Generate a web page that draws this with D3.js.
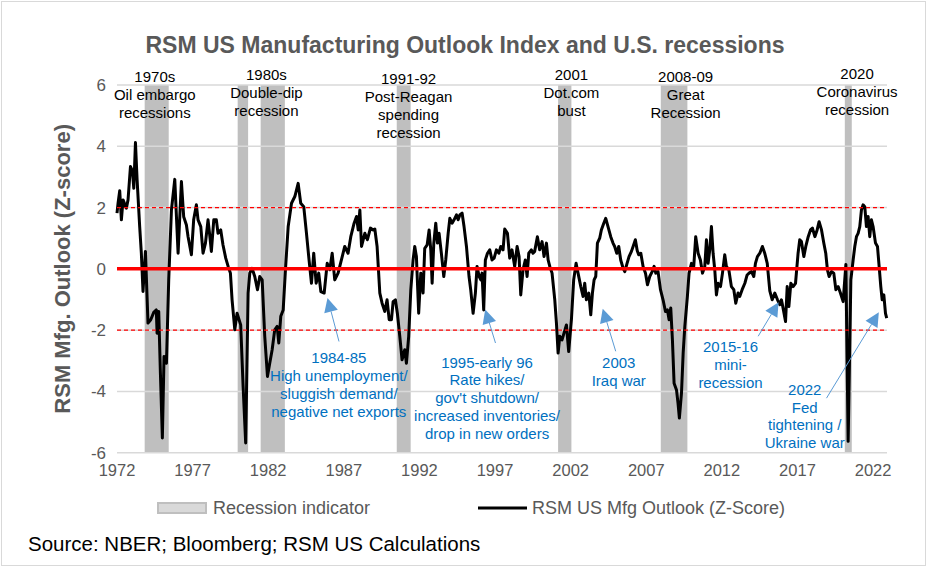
<!DOCTYPE html>
<html>
<head>
<meta charset="utf-8">
<script src="https://cdn.jsdelivr.net/npm/d3@7"></script>
<style>
  body { margin: 0; background: #fff; }
  text { font-family: Arial, "Liberation Sans", sans-serif; }
</style>
</head>
<body>
<svg id="chart" width="937" height="575"></svg>
<script>
// RSM US Mfg Outlook z-score, [decimal year, value]
const mfgOutlook = [
  [1972.0,1.82],[1972.07,2.14],[1972.18,2.55],[1972.29,1.6],[1972.4,2.25],[1972.62,1.98],[1972.73,2.25],
  [1972.89,3.34],[1973.02,3.2],[1973.11,2.63],[1973.22,4.12],[1973.33,2.9],[1973.5,1.38],[1973.61,0.51],
  [1973.72,-0.74],[1973.88,0.57],[1974.05,-1.77],[1974.23,-1.66],[1974.43,-1.42],[1974.6,-1.34],[1974.65,-2.1],
  [1974.76,-1.39],[1974.87,-3.4],[1975.0,-5.52],[1975.11,-2.86],[1975.27,-3.08],[1975.42,-0.36],[1975.6,1.92],
  [1975.82,2.92],[1976.04,0.51],[1976.26,2.85],[1976.41,1.7],[1976.59,1.43],[1976.7,1.05],[1976.92,0.46],
  [1977.07,1.6],[1977.25,2.09],[1977.36,1.6],[1977.54,1.38],[1977.69,0.51],[1977.85,0.84],[1978.02,1.6],
  [1978.13,1.11],[1978.24,0.57],[1978.4,1.6],[1978.57,1.6],[1978.68,1.16],[1978.86,1.27],[1979.01,0.78],
  [1979.19,0.35],[1979.35,0.08],[1979.5,-0.14],[1979.61,-1.01],[1979.79,-1.99],[1979.94,-1.45],[1980.18,-1.83],
  [1980.34,-3.84],[1980.51,-5.68],[1980.67,-0.79],[1980.78,-0.14],[1980.93,0.02],[1981.11,-0.25],[1981.29,-0.68],
  [1981.44,-0.25],[1981.6,-0.36],[1981.77,-2.2],[1981.95,-3.51],[1982.1,-3.08],[1982.26,-2.64],[1982.43,-1.99],
  [1982.59,-1.88],[1982.7,-2.42],[1982.83,-1.55],[1982.99,-1.34],[1983.14,-0.03],[1983.32,1.38],[1983.54,2.14],
  [1983.76,2.36],[1983.98,2.79],[1984.15,2.14],[1984.35,2.03],[1984.53,1.16],[1984.7,0.29],[1984.86,-0.47],
  [1985.01,0.51],[1985.17,-0.47],[1985.34,-0.14],[1985.48,-0.74],[1985.7,-0.79],[1985.9,0.18],[1986.07,-0.03],
  [1986.23,0.51],[1986.4,-0.36],[1986.62,-0.14],[1986.84,0.29],[1987.06,0.73],[1987.28,0.51],[1987.46,1.05],
  [1987.68,1.49],[1987.84,1.71],[1987.95,1.27],[1988.06,1.92],[1988.17,0.73],[1988.39,1.16],[1988.56,0.95],
  [1988.76,1.33],[1988.94,1.27],[1989.05,1.3],[1989.2,0.73],[1989.38,-0.79],[1989.53,-1.12],[1989.71,-1.39],
  [1989.86,-1.01],[1990.0,-1.66],[1990.15,-1.66],[1990.26,-1.07],[1990.41,-1.01],[1990.54,-1.45],[1990.7,-2.2],
  [1990.85,-2.97],[1991.03,-2.64],[1991.14,-3.08],[1991.29,-2.2],[1991.43,-0.68],[1991.58,0.29],[1991.69,0.73],
  [1991.8,0.4],[1991.95,-1.45],[1992.09,-0.14],[1992.24,-0.79],[1992.35,0.67],[1992.51,0.78],[1992.64,1.27],
  [1992.75,0.62],[1992.84,-0.47],[1992.95,0.84],[1993.08,1.49],[1993.19,0.84],[1993.3,1.16],[1993.45,0.51],
  [1993.61,-0.25],[1993.74,0.29],[1993.9,1.16],[1994.01,1.65],[1994.16,1.49],[1994.29,1.6],[1994.45,1.76],
  [1994.56,1.6],[1994.67,1.76],[1994.82,1.82],[1994.95,1.38],[1995.11,0.73],[1995.28,-0.25],[1995.39,-0.68],
  [1995.55,-1.45],[1995.7,-0.79],[1995.81,0.08],[1995.95,-0.25],[1996.06,-0.36],[1996.14,-0.14],[1996.25,-1.34],
  [1996.36,0.29],[1996.5,0.51],[1996.65,0.62],[1996.8,0.29],[1996.94,0.35],[1997.09,0.62],[1997.25,0.51],
  [1997.38,0.73],[1997.53,0.62],[1997.64,1.3],[1997.82,1.16],[1997.97,0.35],[1998.12,0.62],[1998.3,0.08],
  [1998.46,0.73],[1998.59,0.4],[1998.7,-0.85],[1998.85,-0.03],[1999.0,0.29],[1999.12,-0.25],[1999.23,0.51],
  [1999.4,0.62],[1999.51,0.51],[1999.62,0.57],[1999.8,1.05],[1999.95,0.62],[2000.11,0.89],[2000.24,0.4],
  [2000.4,0.84],[2000.51,0.29],[2000.62,0.08],[2000.77,-0.14],[2000.95,-1.01],[2001.06,-1.77],[2001.17,-2.75],
  [2001.28,-2.2],[2001.43,-2.32],[2001.56,-2.1],[2001.72,-1.83],[2001.87,-2.7],[2002.05,-1.66],[2002.2,-0.36],
  [2002.36,0.18],[2002.49,-0.14],[2002.67,-0.58],[2002.82,-0.9],[2002.93,-0.47],[2003.04,-1.01],[2003.2,-0.79],
  [2003.33,-1.5],[2003.44,-0.79],[2003.55,-0.36],[2003.66,-0.25],[2003.77,0.84],[2003.92,1.0],[2004.03,1.27],
  [2004.19,1.49],[2004.32,1.65],[2004.47,1.38],[2004.65,1.05],[2004.8,0.84],[2004.91,0.73],[2005.05,0.51],
  [2005.18,0.73],[2005.31,0.29],[2005.47,0.02],[2005.58,-0.09],[2005.73,0.18],[2005.86,0.4],[2006.02,0.57],
  [2006.13,0.73],[2006.28,0.95],[2006.4,0.6],[2006.5,0.46],[2006.64,0.51],[2006.79,0.08],[2006.95,-0.14],
  [2007.08,-0.52],[2007.23,-0.25],[2007.39,-0.09],[2007.52,0.08],[2007.63,-0.14],[2007.78,-0.09],[2007.94,-0.68],
  [2008.11,-1.01],[2008.27,-1.39],[2008.4,-1.34],[2008.51,-1.66],[2008.62,-1.28],[2008.73,-2.32],[2008.84,-3.73],
  [2009.0,-3.95],[2009.1,-4.38],[2009.19,-4.87],[2009.33,-4.05],[2009.44,-2.75],[2009.55,-1.88],[2009.72,-0.9],
  [2009.83,-0.14],[2009.99,0.18],[2010.14,0.08],[2010.27,1.05],[2010.43,0.51],[2010.58,0.29],[2010.72,-0.14],
  [2010.87,0.08],[2010.98,0.95],[2011.09,0.18],[2011.2,0.62],[2011.31,1.38],[2011.42,0.51],[2011.53,-0.03],
  [2011.64,-0.85],[2011.75,-0.47],[2011.91,-0.58],[2012.04,-0.14],[2012.19,0.46],[2012.3,0.08],[2012.46,-0.03],
  [2012.63,-0.58],[2012.79,-0.68],[2012.92,-1.12],[2013.07,-0.79],[2013.18,-0.9],[2013.34,-0.68],[2013.52,-0.47],
  [2013.67,-0.2],[2013.8,-0.14],[2013.96,-0.09],[2014.11,-0.25],[2014.22,0.18],[2014.35,0.4],[2014.51,0.51],
  [2014.68,0.73],[2014.84,0.5],[2015.0,0.18],[2015.17,-0.72],[2015.33,-1.01],[2015.5,-0.79],[2015.68,-1.01],
  [2015.83,-1.17],[2015.94,-1.01],[2016.07,-1.34],[2016.21,-1.72],[2016.32,-0.58],[2016.43,-1.23],[2016.56,-0.47],
  [2016.71,-0.58],[2016.87,-0.47],[2017.04,0.51],[2017.15,0.95],[2017.26,0.89],[2017.42,0.4],[2017.55,0.73],
  [2017.71,1.05],[2017.86,1.27],[2017.99,1.33],[2018.15,1.05],[2018.3,1.27],[2018.43,1.54],[2018.59,1.27],
  [2018.74,0.84],[2018.87,0.51],[2018.98,-0.03],[2019.09,-0.25],[2019.25,-0.09],[2019.4,-0.14],[2019.54,-0.68],
  [2019.69,-0.58],[2019.84,-0.79],[2020.02,-1.07],[2020.2,0.14],[2020.35,-5.63],[2020.53,-0.36],[2020.68,0.29],
  [2020.79,0.73],[2020.9,1.05],[2021.01,1.16],[2021.12,1.38],[2021.23,1.92],[2021.34,2.09],[2021.45,2.03],
  [2021.56,1.38],[2021.67,1.71],[2021.78,1.05],[2021.89,1.6],[2022.0,1.38],[2022.16,0.84],[2022.29,0.73],
  [2022.4,0.08],[2022.51,-0.58],[2022.6,-1.01],[2022.71,-0.85],[2022.82,-1.45],[2022.9,-1.61]
];

// recession indicator bars (start, end), as drawn
const recessions = [
  [1973.83, 1975.42], [1979.98, 1980.67], [1981.5, 1983.1], [1990.5, 1991.42],
  [2001.17, 2002.05], [2007.96, 2009.72], [2020.13, 2020.59]
];

const xTicks = [1972, 1977, 1982, 1987, 1992, 1997, 2002, 2007, 2012, 2017, 2022];
const yTicks = [-6, -4, -2, 0, 2, 4, 6];

// recession labels: centre year, top value, lines
const recessionNotes = [
  { year: 1974.5, value: 6.28, lines: ["1970s", "Oil embargo", "recessions"] },
  { year: 1981.88, value: 6.35, lines: ["1980s", "Double-dip", "recession"] },
  { year: 1991.28, value: 6.21, lines: ["1991-92", "Post-Reagan", "spending", "recession"] },
  { year: 2002.05, value: 6.32, lines: ["2001", "Dot.com", "bust"] },
  { year: 2009.6, value: 6.27, lines: ["2008-09", "Great", "Recession"] },
  { year: 2020.94, value: 6.38, lines: ["2020", "Coronavirus", "recession"] }
];

// slowdown callouts with arrows (from / to in year, value)
const slowdownNotes = [
  { year: 1986.67, value: -2.91, lines: ["1984-85", "High unemployment/", "sluggish demand/", "negative net exports"],
    from: [1986.68, -2.37], to: [1985.92, -0.95] },
  { year: 1996.47, value: -3.05, lines: ["1995-early 96", "Rate hikes/", "gov't shutdown/", "increased inventories/", "drop in new orders"],
    from: [1997.03, -2.42], to: [1996.35, -1.33] },
  { year: 2005.18, value: -3.07, lines: ["2003", "Iraq war"],
    from: [2004.98, -2.69], to: [2004.12, -1.3] },
  { year: 2012.57, value: -2.55, lines: ["2015-16", "mini-", "recession"],
    from: [2014.4, -2.2], to: [2015.75, -1.09] },
  { year: 2017.48, value: -3.94, lines: ["2022", "Fed", "tightening /", "Ukraine war"],
    from: [2018.92, -4.22], to: [2022.38, -1.42] }
];

const svg = d3.select("#chart");
const x = d3.scaleLinear().domain([1972, 2022.92]).range([117, 887]);
const y = d3.scaleLinear().domain([-6, 6]).range([452.7, 85]);

// outer frame
svg.append("rect")
  .attr("x", 1.5).attr("y", 1.5)
  .attr("width", 924).attr("height", 564)
  .attr("fill", "#fff").attr("stroke", "#d9d9d9");

// title
svg.append("text")
  .attr("x", 465).attr("y", 53)
  .attr("text-anchor", "middle")
  .attr("font-size", 23).attr("font-weight", "bold")
  .attr("fill", "#595959")
  .text("RSM US Manufacturing Outlook Index and U.S. recessions");

// recession bars
svg.append("g").selectAll("rect")
  .data(recessions)
  .join("rect")
  .attr("x", d => x(d[0]))
  .attr("width", d => x(d[1]) - x(d[0]))
  .attr("y", y(6))
  .attr("height", y(-6) - y(6))
  .attr("fill", "#bfbfbf");

// gridlines
svg.append("g").selectAll("line")
  .data(yTicks)
  .join("line")
  .attr("x1", x.range()[0]).attr("x2", x.range()[1])
  .attr("y1", d => y(d)).attr("y2", d => y(d))
  .attr("stroke", "#d9d9d9").attr("stroke-width", 1.5);

// y tick labels
svg.append("g").selectAll("text")
  .data(yTicks)
  .join("text")
  .attr("x", 106).attr("y", d => y(d))
  .attr("dy", "0.35em")
  .attr("text-anchor", "end")
  .attr("font-size", 17).attr("fill", "#595959")
  .text(d => d);

// x tick labels
svg.append("g").selectAll("text")
  .data(xTicks)
  .join("text")
  .attr("x", d => x(d)).attr("y", y(-6) + 18)
  .attr("dy", "0.35em")
  .attr("text-anchor", "middle")
  .attr("font-size", 16.5).attr("fill", "#595959")
  .text(d => d);

// y axis title
svg.append("text")
  .attr("transform", `translate(62,${y(0)}) rotate(-90)`)
  .attr("text-anchor", "middle")
  .attr("dy", "0.35em")
  .attr("font-size", 22).attr("font-weight", "bold")
  .attr("fill", "#595959")
  .text("RSM Mfg. Outlook (Z-score)");

// the index line
const line = d3.line().x(d => x(d[0])).y(d => y(d[1]));
svg.append("path")
  .datum(mfgOutlook)
  .attr("d", line)
  .attr("fill", "none")
  .attr("stroke", "#000")
  .attr("stroke-width", 3)
  .attr("stroke-linejoin", "round");

// zero line and +/-2 bands
svg.append("line")
  .attr("x1", x.range()[0]).attr("x2", x.range()[1])
  .attr("y1", y(0)).attr("y2", y(0))
  .attr("stroke", "#ff0000").attr("stroke-width", 3.5);
svg.append("g").selectAll("line")
  .data([2, -2])
  .join("line")
  .attr("x1", x.range()[0]).attr("x2", x.range()[1])
  .attr("y1", d => y(d)).attr("y2", d => y(d))
  .attr("stroke", "#ff0000").attr("stroke-width", 1.2)
  .attr("stroke-dasharray", "4,3");

// multi-line labels
function drawNote(g, note, color, size, lineHeight) {
  const t = g.append("text")
    .attr("text-anchor", "middle")
    .attr("font-size", size)
    .attr("fill", color);
  note.lines.forEach((s, i) => {
    t.append("tspan")
      .attr("x", x(note.year))
      .attr("y", y(note.value) + i * lineHeight)
      .attr("dy", "0.35em")
      .text(s);
  });
}

const noteLayer = svg.append("g");
recessionNotes.forEach(n => drawNote(noteLayer, n, "#000", 15, 18));
slowdownNotes.forEach(n => drawNote(noteLayer, n, "#0070c0", 15, 17.8));

// callout arrows
const arrowLayer = svg.append("g");
slowdownNotes.forEach(n => {
  const x0 = x(n.from[0]), y0 = y(n.from[1]);
  const x1 = x(n.to[0]), y1 = y(n.to[1]);
  const ang = Math.atan2(y1 - y0, x1 - x0);
  const len = 14, half = 7;
  const bx = x1 - len * Math.cos(ang), by = y1 - len * Math.sin(ang);
  arrowLayer.append("line")
    .attr("x1", x0).attr("y1", y0).attr("x2", bx).attr("y2", by)
    .attr("stroke", "#5b9bd5").attr("stroke-width", 1);
  const pts = [
    [x1, y1],
    [bx + half * Math.sin(ang), by - half * Math.cos(ang)],
    [bx - half * Math.sin(ang), by + half * Math.cos(ang)]
  ];
  arrowLayer.append("polygon")
    .attr("points", pts.map(p => p.join(",")).join(" "))
    .attr("fill", "#5b9bd5");
});

// legend
const legend = svg.append("g").attr("font-size", 18).attr("fill", "#595959");
legend.append("rect")
  .attr("x", 158).attr("y", 503).attr("width", 48).attr("height", 10)
  .attr("fill", "#d9d9d9").attr("stroke", "#bfbfbf").attr("stroke-width", 2);
legend.append("text").attr("x", 213).attr("y", 508).attr("dy", "0.35em")
  .text("Recession indicator");
legend.append("line")
  .attr("x1", 478).attr("x2", 527).attr("y1", 508).attr("y2", 508)
  .attr("stroke", "#000").attr("stroke-width", 3);
legend.append("text").attr("x", 532).attr("y", 508).attr("dy", "0.35em")
  .text("RSM US Mfg Outlook (Z-Score)");

// source
svg.append("text")
  .attr("x", 28).attr("y", 544).attr("dy", "0.35em")
  .attr("font-size", 20.5).attr("fill", "#000")
  .text("Source: NBER; Bloomberg; RSM US Calculations");
</script>
</body>
</html>
